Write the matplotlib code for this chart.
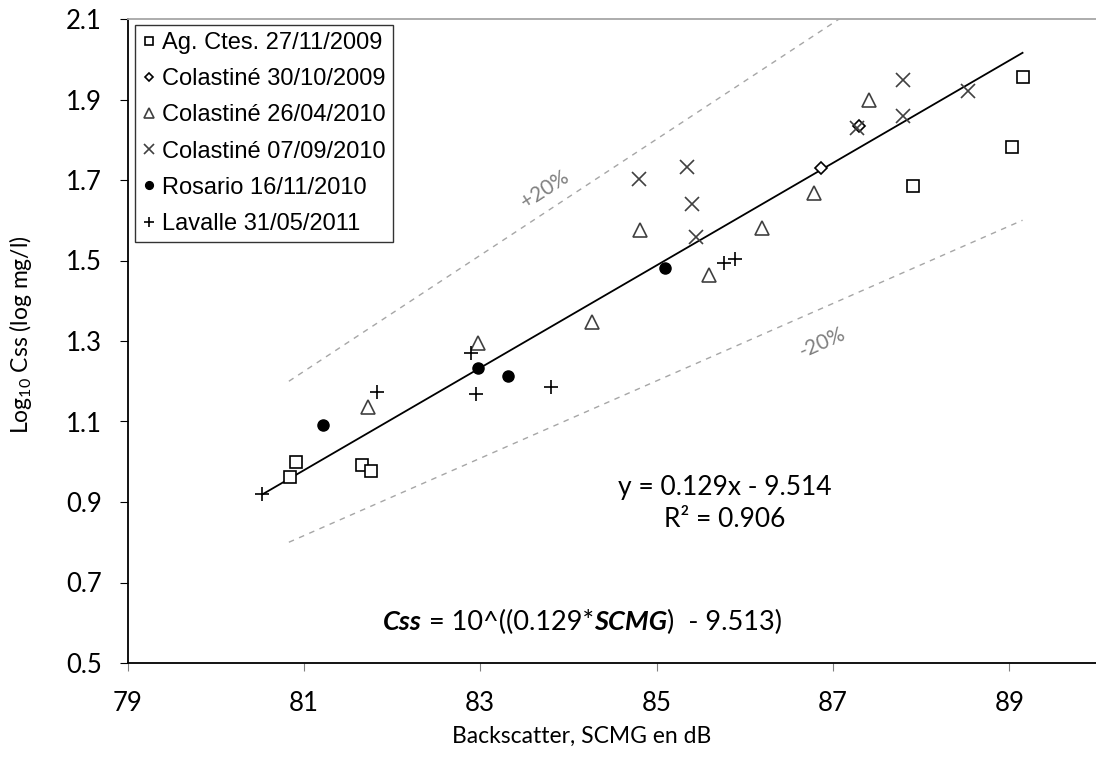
import numpy as np
import matplotlib
matplotlib.use('Agg')
import matplotlib.pyplot as plt
from matplotlib.offsetbox import TextArea, HPacker, AnnotationBbox

# Données
ag_x = [80.84, 80.91, 81.66, 81.76, 87.91, 89.03, 89.15]
ag_y = [0.963, 1.000, 0.992, 0.978, 1.685, 1.783, 1.957]

col09_x = [86.86, 87.30]
col09_y = [1.729, 1.834]

col10a_x = [81.73, 82.98, 84.27, 84.81, 85.59, 86.20, 86.79, 87.41]
col10a_y = [1.137, 1.294, 1.348, 1.577, 1.464, 1.581, 1.667, 1.900]

col10b_x = [84.80, 85.34, 85.40, 85.45, 87.27, 87.79, 87.79, 88.53]
col10b_y = [1.702, 1.733, 1.640, 1.559, 1.828, 1.948, 1.859, 1.922]

ros_x = [81.22, 82.97, 83.31, 85.10]
ros_y = [1.091, 1.232, 1.214, 1.481]

lav_x = [80.53, 81.83, 82.89, 82.95, 83.80, 85.77, 85.89]
lav_y = [0.919, 1.174, 1.270, 1.168, 1.186, 1.495, 1.504]

# droite de tendance (extrémités)
trend_x = [80.53, 89.15]
trend_y = [0.919, 2.016]

# enveloppe +-20 %
band_x = [80.83, 89.15]
band_base = [1.0, 2.0]

xticks = [79, 81, 83, 85, 87, 89]
yticks = [0.5, 0.7, 0.9, 1.1, 1.3, 1.5, 1.7, 1.9, 2.1]

plt.rcParams['font.family'] = ['Lato', 'DejaVu Sans']
plt.rcParams['mathtext.default'] = 'regular'

fig = plt.figure(figsize=(10.96, 7.67), dpi=100)
ax = fig.add_axes([127.5 / 1096, 1 - 663 / 767, 970 / 1096, 644 / 767])

# séries
ax.plot(ag_x, ag_y, 's', mfc='white', mec='black', mew=1.2, ms=8.5, label='Ag. Ctes. 27/11/2009', zorder=3)
ax.plot(col09_x, col09_y, 'D', mfc='white', mec='black', mew=1.2, ms=6, label='Colastiné 30/10/2009', zorder=3)
ax.plot(col10a_x, col10a_y, '^', mfc='white', mec='#404040', mew=1.2, ms=9.5, label='Colastiné 26/04/2010', zorder=3)
ax.plot(col10b_x, col10b_y, 'x', color='#404040', mew=1.2, ms=9.5, label='Colastiné 07/09/2010', zorder=3)
ax.plot(ros_x, ros_y, 'o', color='black', ms=8, label='Rosario 16/11/2010', zorder=3)
ax.plot(lav_x, lav_y, '+', color='black', mew=1.2, ms=10, label='Lavalle 31/05/2011', zorder=3)

ax.plot(trend_x, trend_y, color='black', lw=1.3, zorder=2)

# lignes +-20 %
bx = np.array(band_x)
bb = np.array(band_base)
ax.plot(bx, bb * 1.2, '--', color='#A6A6A6', lw=1, dashes=(4, 4))
ax.plot(bx, bb * 0.8, '--', color='#A6A6A6', lw=1, dashes=(4, 4))
ax.text(83.73, 1.675, '+20%', color='#808080', fontsize=15, rotation=33, ha='center', va='center')
ax.text(86.88, 1.295, '-20%', color='#808080', fontsize=15, rotation=24, ha='center', va='center')

ax.text(85.77, 0.897, 'y = 0.129x - 9.514\nR² = 0.906', fontsize=19, ha='center', va='center', linespacing=1.35)

parts = [
    TextArea('Css', textprops=dict(fontsize=19.5, fontweight='bold', style='italic')),
    TextArea(' = 10^((0.129*', textprops=dict(fontsize=19.5)),
    TextArea('SCMG', textprops=dict(fontsize=19.5, fontweight='bold', style='italic')),
    TextArea(')  - 9.513)', textprops=dict(fontsize=19.5)),
]
box = HPacker(children=parts, align='baseline', pad=0, sep=0)
ax.add_artist(AnnotationBbox(box, (84.16, 0.6), xycoords='data', frameon=False, box_alignment=(0.5, 0.5)))

ax.set_xlim(79, 90)
ax.set_ylim(0.5, 2.1)
ax.set_xticks(xticks)
ax.set_yticks(yticks)
ax.set_yticklabels([f'{v:.1f}' for v in yticks])
ax.tick_params(axis='both', labelsize=18.5, direction='out')
ax.tick_params(axis='x', length=6, color='#808080', pad=14)
ax.tick_params(axis='y', length=5.5, pad=13)

for s in ['left', 'bottom']:
    ax.spines[s].set_linewidth(1.3)
ax.spines['right'].set_visible(False)
ax.spines['top'].set_color('#A6A6A6')
ax.spines['top'].set_linewidth(1.3)

ax.set_xlabel('Backscatter, SCMG en dB', fontsize=16.5)
ax.xaxis.set_label_coords((582 - 127.5) / 970, (663 - 726) / 644)
ax.set_ylabel('Log$_{10}$ Css (log mg/l)', fontsize=16.5)
ax.yaxis.set_label_coords((34 - 127.5) / 970, (663 - 335) / 644)

leg = ax.legend(loc='upper left', bbox_to_anchor=(7.5 / 970, 1 - 6 / 644), frameon=True, fancybox=False,
                prop={'family': 'Liberation Sans', 'size': 17}, handlelength=0.6, handletextpad=0.25,
                borderpad=0.3, labelspacing=0.6, markerscale=0.7, borderaxespad=0)
leg.get_frame().set_edgecolor('black')
leg.get_frame().set_linewidth(1)

plt.savefig('out.png', dpi=100)
